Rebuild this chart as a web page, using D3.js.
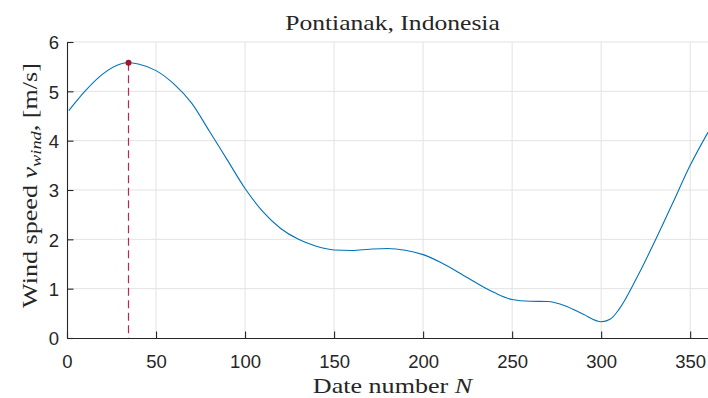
<!DOCTYPE html>
<html><head><meta charset="utf-8">
<script src="https://cdn.jsdelivr.net/npm/d3@7"></script>
<style>html,body{margin:0;padding:0;background:#fff;}svg{display:block;}</style>
</head><body>
<svg id="c" width="708" height="398"></svg>
<script>
const title = "Pontianak, Indonesia";
const xTicks = [0,50,100,150,200,250,300,350];
const yTicks = [0,1,2,3,4,5,6];
const days = [1,10,20,30,34,40,50,60,70,80,90,100,110,120,130,140,150,160,170,180,190,200,210,225,240,250,260,270,280,290,300,305,310,320,330,340,350,360];
const speed = [4.61,5.00,5.35,5.555,5.58,5.555,5.42,5.15,4.76,4.19,3.61,3.03,2.56,2.22,2.00,1.86,1.785,1.775,1.80,1.815,1.78,1.69,1.53,1.22,0.92,0.78,0.745,0.74,0.65,0.48,0.33,0.38,0.58,1.22,1.95,2.72,3.50,4.17];
const peakDay = [34];
const peakSpeed = [5.58];

const svg = d3.select("#c");
const m = {l:67, r:708, t:42, b:338};
const x = d3.scaleLinear().domain([0,360]).range([m.l, m.r]);
const y = d3.scaleLinear().domain([0,6]).range([m.b, m.t]);
const axisCol = "#262626";

// grid
const g = svg.append("g");
g.selectAll("line.gx").data(xTicks.filter(d=>d>0)).enter().append("line")
  .attr("x1",d=>x(d)).attr("x2",d=>x(d)).attr("y1",m.t).attr("y2",m.b)
  .attr("stroke","#e3e3e3").attr("stroke-width",1);
g.selectAll("line.gy").data(yTicks.filter(d=>d>0)).enter().append("line")
  .attr("y1",d=>y(d)).attr("y2",d=>y(d)).attr("x1",m.l).attr("x2",m.r)
  .attr("stroke","#e3e3e3").attr("stroke-width",1);

// axes
const xa = svg.append("g").attr("transform",`translate(0,${m.b})`)
  .call(d3.axisBottom(x).tickValues(xTicks).tickSizeInner(-6.5).tickSizeOuter(0).tickPadding(10).tickFormat(d3.format("d")));
const ya = svg.append("g").attr("transform",`translate(${m.l},0)`)
  .call(d3.axisLeft(y).tickValues(yTicks).tickSizeInner(-6.5).tickSizeOuter(0).tickPadding(8).tickFormat(d3.format("d")));
[xa,ya].forEach(a=>{
  a.select(".domain").attr("stroke",axisCol).attr("stroke-width",1.1);
  a.selectAll(".tick line").attr("stroke",axisCol).attr("stroke-width",1.1);
  a.selectAll(".tick text").attr("fill",axisCol)
    .style("font-family","'Liberation Sans', Arial, Helvetica, sans-serif").style("font-size","18.5px");
});
xa.selectAll(".tick text").attr("dy",null).attr("y",30);
ya.selectAll(".tick text").attr("x",-8).attr("dy","0.36em");

// clip
svg.append("clipPath").attr("id","clip").append("rect")
  .attr("x",m.l).attr("y",m.t-5).attr("width",m.r-m.l).attr("height",m.b-m.t+5);

const pts = days.map((d,i)=>[d,speed[i]]);
svg.append("path").attr("clip-path","url(#clip)")
  .attr("d", d3.line().x(d=>x(d[0])).y(d=>y(d[1])).curve(d3.curveMonotoneX)(pts))
  .attr("fill","none").attr("stroke","#0072BD").attr("stroke-width",1.1);

// peak marker
const red = "#A2142F";
svg.selectAll("line.pk").data(peakDay).enter().append("line")
  .attr("x1",d=>Math.round(x(d))+0.5).attr("x2",d=>Math.round(x(d))+0.5)
  .attr("y1",(d,i)=>y(peakSpeed[i])).attr("y2",y(0))
  .attr("stroke","#b8284a").attr("stroke-width",1.2).attr("stroke-dasharray","8,4.5");
svg.selectAll("circle.pk").data(peakDay).enter().append("circle")
  .attr("cx",d=>Math.round(x(d))+0.5).attr("cy",(d,i)=>y(peakSpeed[i])).attr("r",3).attr("fill",red);

// labels (serif, fitted width)
const serif = "'Liberation Serif', 'Times New Roman', serif";

const t = svg.append("text").attr("x",0).attr("y",0).attr("text-anchor","middle")
  .style("font-family",serif).style("font-size","22px").attr("fill","#262626").text(title);
const tk = 215 / t.node().getBBox().width;
t.attr("transform",`translate(392.5,30) scale(${tk},1)`);

const xl = svg.append("text").attr("text-anchor","middle")
  .style("font-family",serif).style("font-size","22px").attr("fill","#262626");
xl.append("tspan").text("Date number ");
xl.append("tspan").style("font-style","italic").text("N");
const xk = 161 / xl.node().getBBox().width;
xl.attr("transform",`translate(392.5,393) scale(${xk},1)`);

const yl = svg.append("text").attr("text-anchor","middle")
  .style("font-family",serif).style("font-size","22px").attr("fill","#262626");
yl.append("tspan").text("Wind speed ");
yl.append("tspan").style("font-style","italic").text("v");
yl.append("tspan").style("font-style","italic").style("font-size","15.5px").attr("dy",4).text("wind");
yl.append("tspan").attr("dy",-4).text(", [m/s]");
const yk = 245 / yl.node().getBBox().width;
yl.attr("transform",`translate(37,185.5) rotate(-90) scale(${yk},1)`);
</script>
</body></html>
